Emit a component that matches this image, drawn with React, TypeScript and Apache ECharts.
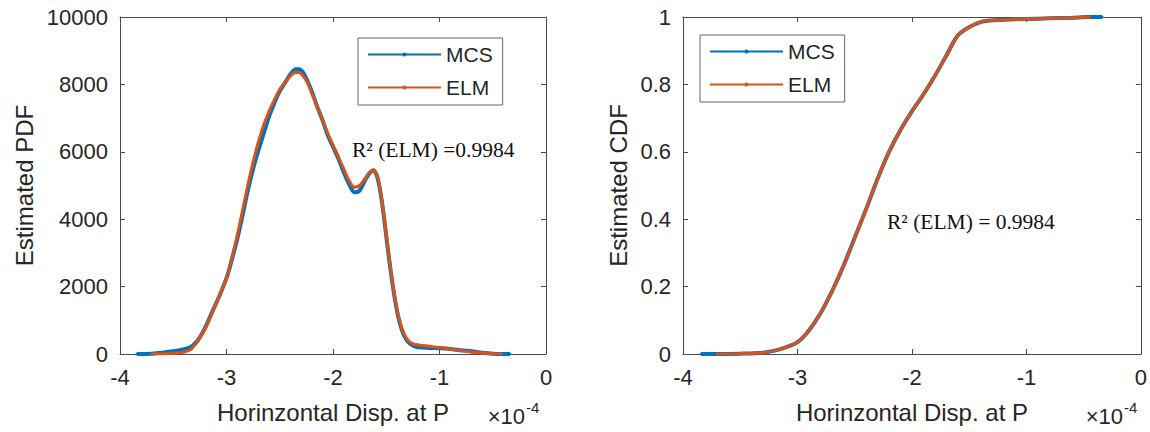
import React, { useEffect, useRef } from "react";
import * as echarts from "echarts";

// x values in units of 1e-4
const pdfX = [-3.84, -3.7, -3.6, -3.5, -3.4, -3.33, -3.27, -3.2, -3.13, -3.07, -3.0, -2.95, -2.9, -2.85, -2.8, -2.75, -2.7, -2.65, -2.6, -2.55, -2.5, -2.45, -2.4, -2.35, -2.32, -2.28, -2.24, -2.2, -2.15, -2.1, -2.05, -2.0, -1.95, -1.9, -1.85, -1.8, -1.75, -1.7, -1.66, -1.62, -1.58, -1.54, -1.5, -1.46, -1.42, -1.38, -1.34, -1.3, -1.25, -1.2, -1.1, -1.0, -0.9, -0.8, -0.7, -0.6, -0.5, -0.42, -0.34];
const mcsPdf = [0, 10, 40, 80, 140, 220, 400, 780, 1280, 1700, 2250, 2800, 3400, 4100, 4850, 5500, 6050, 6550, 7050, 7450, 7800, 8050, 8300, 8450, 8450, 8350, 8100, 7800, 7350, 6950, 6500, 6150, 5800, 5400, 5050, 4800, 4850, 5150, 5350, 5450, 5200, 4500, 3500, 2500, 1650, 1000, 600, 380, 250, 200, 180, 170, 150, 110, 80, 40, 10, 0, 0];
const elmPdf = [null, 0, 5, 20, 60, 150, 380, 750, 1250, 1700, 2250, 2850, 3500, 4250, 5000, 5700, 6300, 6800, 7200, 7550, 7850, 8050, 8250, 8350, 8350, 8250, 8050, 7750, 7350, 6950, 6550, 6200, 5850, 5500, 5150, 4950, 5000, 5200, 5380, 5450, 5250, 4550, 3550, 2550, 1700, 1050, 650, 420, 300, 270, 230, 190, 150, 100, 60, 30, 10, 0, null];

const cdfX = [-3.84, -3.7, -3.5, -3.3, -3.2, -3.1, -3.0, -2.9, -2.8, -2.7, -2.6, -2.5, -2.4, -2.3, -2.2, -2.1, -2.0, -1.9, -1.8, -1.7, -1.6, -1.5, -1.4, -1.3, -1.2, -1.0, -0.8, -0.6, -0.45, -0.34];
const mcsCdf = [0, 0, 0.001, 0.004, 0.01, 0.02, 0.035, 0.07, 0.12, 0.185, 0.26, 0.345, 0.43, 0.52, 0.6, 0.665, 0.72, 0.77, 0.825, 0.885, 0.945, 0.97, 0.985, 0.99, 0.992, 0.994, 0.996, 0.998, 1.0, 1.0];
const elmCdf = [null, 0, 0.001, 0.004, 0.01, 0.02, 0.035, 0.07, 0.12, 0.185, 0.26, 0.345, 0.43, 0.52, 0.6, 0.665, 0.72, 0.77, 0.825, 0.885, 0.945, 0.97, 0.985, 0.99, 0.992, 0.994, 0.996, 0.998, 1.0, null];

const seriesNames = ["MCS", "ELM"];
const pdfAnnotation = "R² (ELM) =0.9984";
const cdfAnnotation = "R² (ELM) = 0.9984";
const xName = "Horinzontal Disp. at P";

const BLUE = "#0072BD";
const ORANGE = "#D95319";
const TXT = "#262626";
const AX = "#4a4a4a";
const SANS = "Liberation Sans, Arial, sans-serif";
const SERIF = "Liberation Serif, Times New Roman, serif";

const pairs = (xs: number[], ys: (number | null)[]) =>
  xs.map((x, i) => [x, ys[i]]).filter((p) => p[1] !== null);

export default function App() {
  const ref = useRef<HTMLDivElement>(null);
  useEffect(() => {
    if (!ref.current) return;
    const chart = echarts.init(ref.current, undefined, { renderer: "svg" });
    const grids = [
      { left: 120, top: 17, width: 426, height: 337 },
      { left: 683, top: 17, width: 460, height: 337 },
    ];
    const baseX = (gi: number, pos: "bottom" | "top") => ({
      type: "value",
      gridIndex: gi,
      position: pos,
      min: -4,
      max: 0,
      interval: 1,
      axisLine: { show: true, onZero: false, lineStyle: { color: AX, width: 1 } },
      axisTick: { show: true, inside: true, length: 5, lineStyle: { color: AX } },
      splitLine: { show: false },
      axisLabel: {
        show: pos === "bottom",
        color: TXT,
        fontSize: 22,
        fontFamily: SANS,
        margin: 12,
        formatter: (v: number) => String(v),
      },
      name: pos === "bottom" ? xName : "",
      nameLocation: "middle",
      nameGap: 46,
      nameTextStyle: { color: TXT, fontSize: 24, fontFamily: SANS },
    });
    const baseY = (gi: number, pos: "left" | "right", max: number, interval: number, name: string, gap: number) => ({
      type: "value",
      gridIndex: gi,
      position: pos,
      min: 0,
      max,
      interval,
      axisLine: { show: true, onZero: false, lineStyle: { color: AX, width: 1 } },
      axisTick: { show: true, inside: true, length: 5, lineStyle: { color: AX } },
      splitLine: { show: false },
      axisLabel: {
        show: pos === "left",
        color: TXT,
        fontSize: 22,
        fontFamily: SANS,
        margin: 12,
        formatter: (v: number) => String(Math.round(v * 1000) / 1000),
      },
      name: pos === "left" ? name : "",
      nameLocation: "middle",
      nameGap: gap,
      nameTextStyle: { color: TXT, fontSize: 24, fontFamily: SANS },
    });
    const lineSeries = (name: string, xi: number, yi: number, data: any[], color: string, width: number, z: number) => ({
      name,
      type: "line",
      xAxisIndex: xi,
      yAxisIndex: yi,
      data,
      smooth: 0.3,
      symbol: "circle",
      symbolSize: 3,
      showSymbol: true,
      lineStyle: { color, width },
      itemStyle: { color },
      z,
    });
    const legendBase = (left: number, top: number) => ({
      data: seriesNames,
      orient: "vertical",
      left,
      top,
      itemWidth: 73,
      itemHeight: 5,
      itemGap: 12,
      itemTextGap: 7,
      padding: [6, 10, 7, 9],
      borderColor: "#666",
      borderWidth: 1,
      borderRadius: 0,
      backgroundColor: "#fff",
      selectedMode: false,
      textStyle: { color: TXT, fontSize: 21, fontFamily: SANS },
    });
    const option: any = {
      animation: false,
      backgroundColor: "#fff",
      grid: grids,
      xAxis: [baseX(0, "bottom"), baseX(1, "bottom"), baseX(0, "top"), baseX(1, "top")],
      yAxis: [
        baseY(0, "left", 10000, 2000, "Estimated PDF", 84),
        baseY(1, "left", 1, 0.2, "Estimated CDF", 53),
        baseY(0, "right", 10000, 2000, "", 0),
        baseY(1, "right", 1, 0.2, "", 0),
      ],
      legend: [legendBase(358, 38), legendBase(700, 35)],
      series: [
        lineSeries("MCS", 0, 0, pairs(pdfX, mcsPdf), BLUE, 4, 2),
        lineSeries("ELM", 0, 0, pairs(pdfX, elmPdf), ORANGE, 3, 3),
        lineSeries("MCS", 1, 1, pairs(cdfX, mcsCdf), BLUE, 4, 2),
        lineSeries("ELM", 1, 1, pairs(cdfX, elmCdf), ORANGE, 3, 3),
      ],
      graphic: [
        { type: "text", x: 352, y: 150, style: { text: pdfAnnotation, fontSize: 21.5, fontFamily: SERIF, fill: "#111", align: "left", verticalAlign: "middle" } },
        { type: "text", x: 887, y: 222, style: { text: cdfAnnotation, fontSize: 21.5, fontFamily: SERIF, fill: "#111", align: "left", verticalAlign: "middle" } },
        { type: "text", x: 525, y: 416, style: { text: "×10", fontSize: 22, fontFamily: SANS, fill: TXT, align: "right", verticalAlign: "middle" } },
        { type: "text", x: 526, y: 407, style: { text: "-4", fontSize: 15, fontFamily: SANS, fill: TXT, align: "left", verticalAlign: "middle" } },
        { type: "text", x: 1123, y: 416, style: { text: "×10", fontSize: 22, fontFamily: SANS, fill: TXT, align: "right", verticalAlign: "middle" } },
        { type: "text", x: 1124, y: 407, style: { text: "-4", fontSize: 15, fontFamily: SANS, fill: TXT, align: "left", verticalAlign: "middle" } },
      ],
    };
    chart.setOption(option);
    return () => chart.dispose();
  }, []);
  return (
    <div
      ref={ref}
      style={{ position: "absolute", left: 0, top: 0, width: 1150, height: 432 }}
    />
  );
}
